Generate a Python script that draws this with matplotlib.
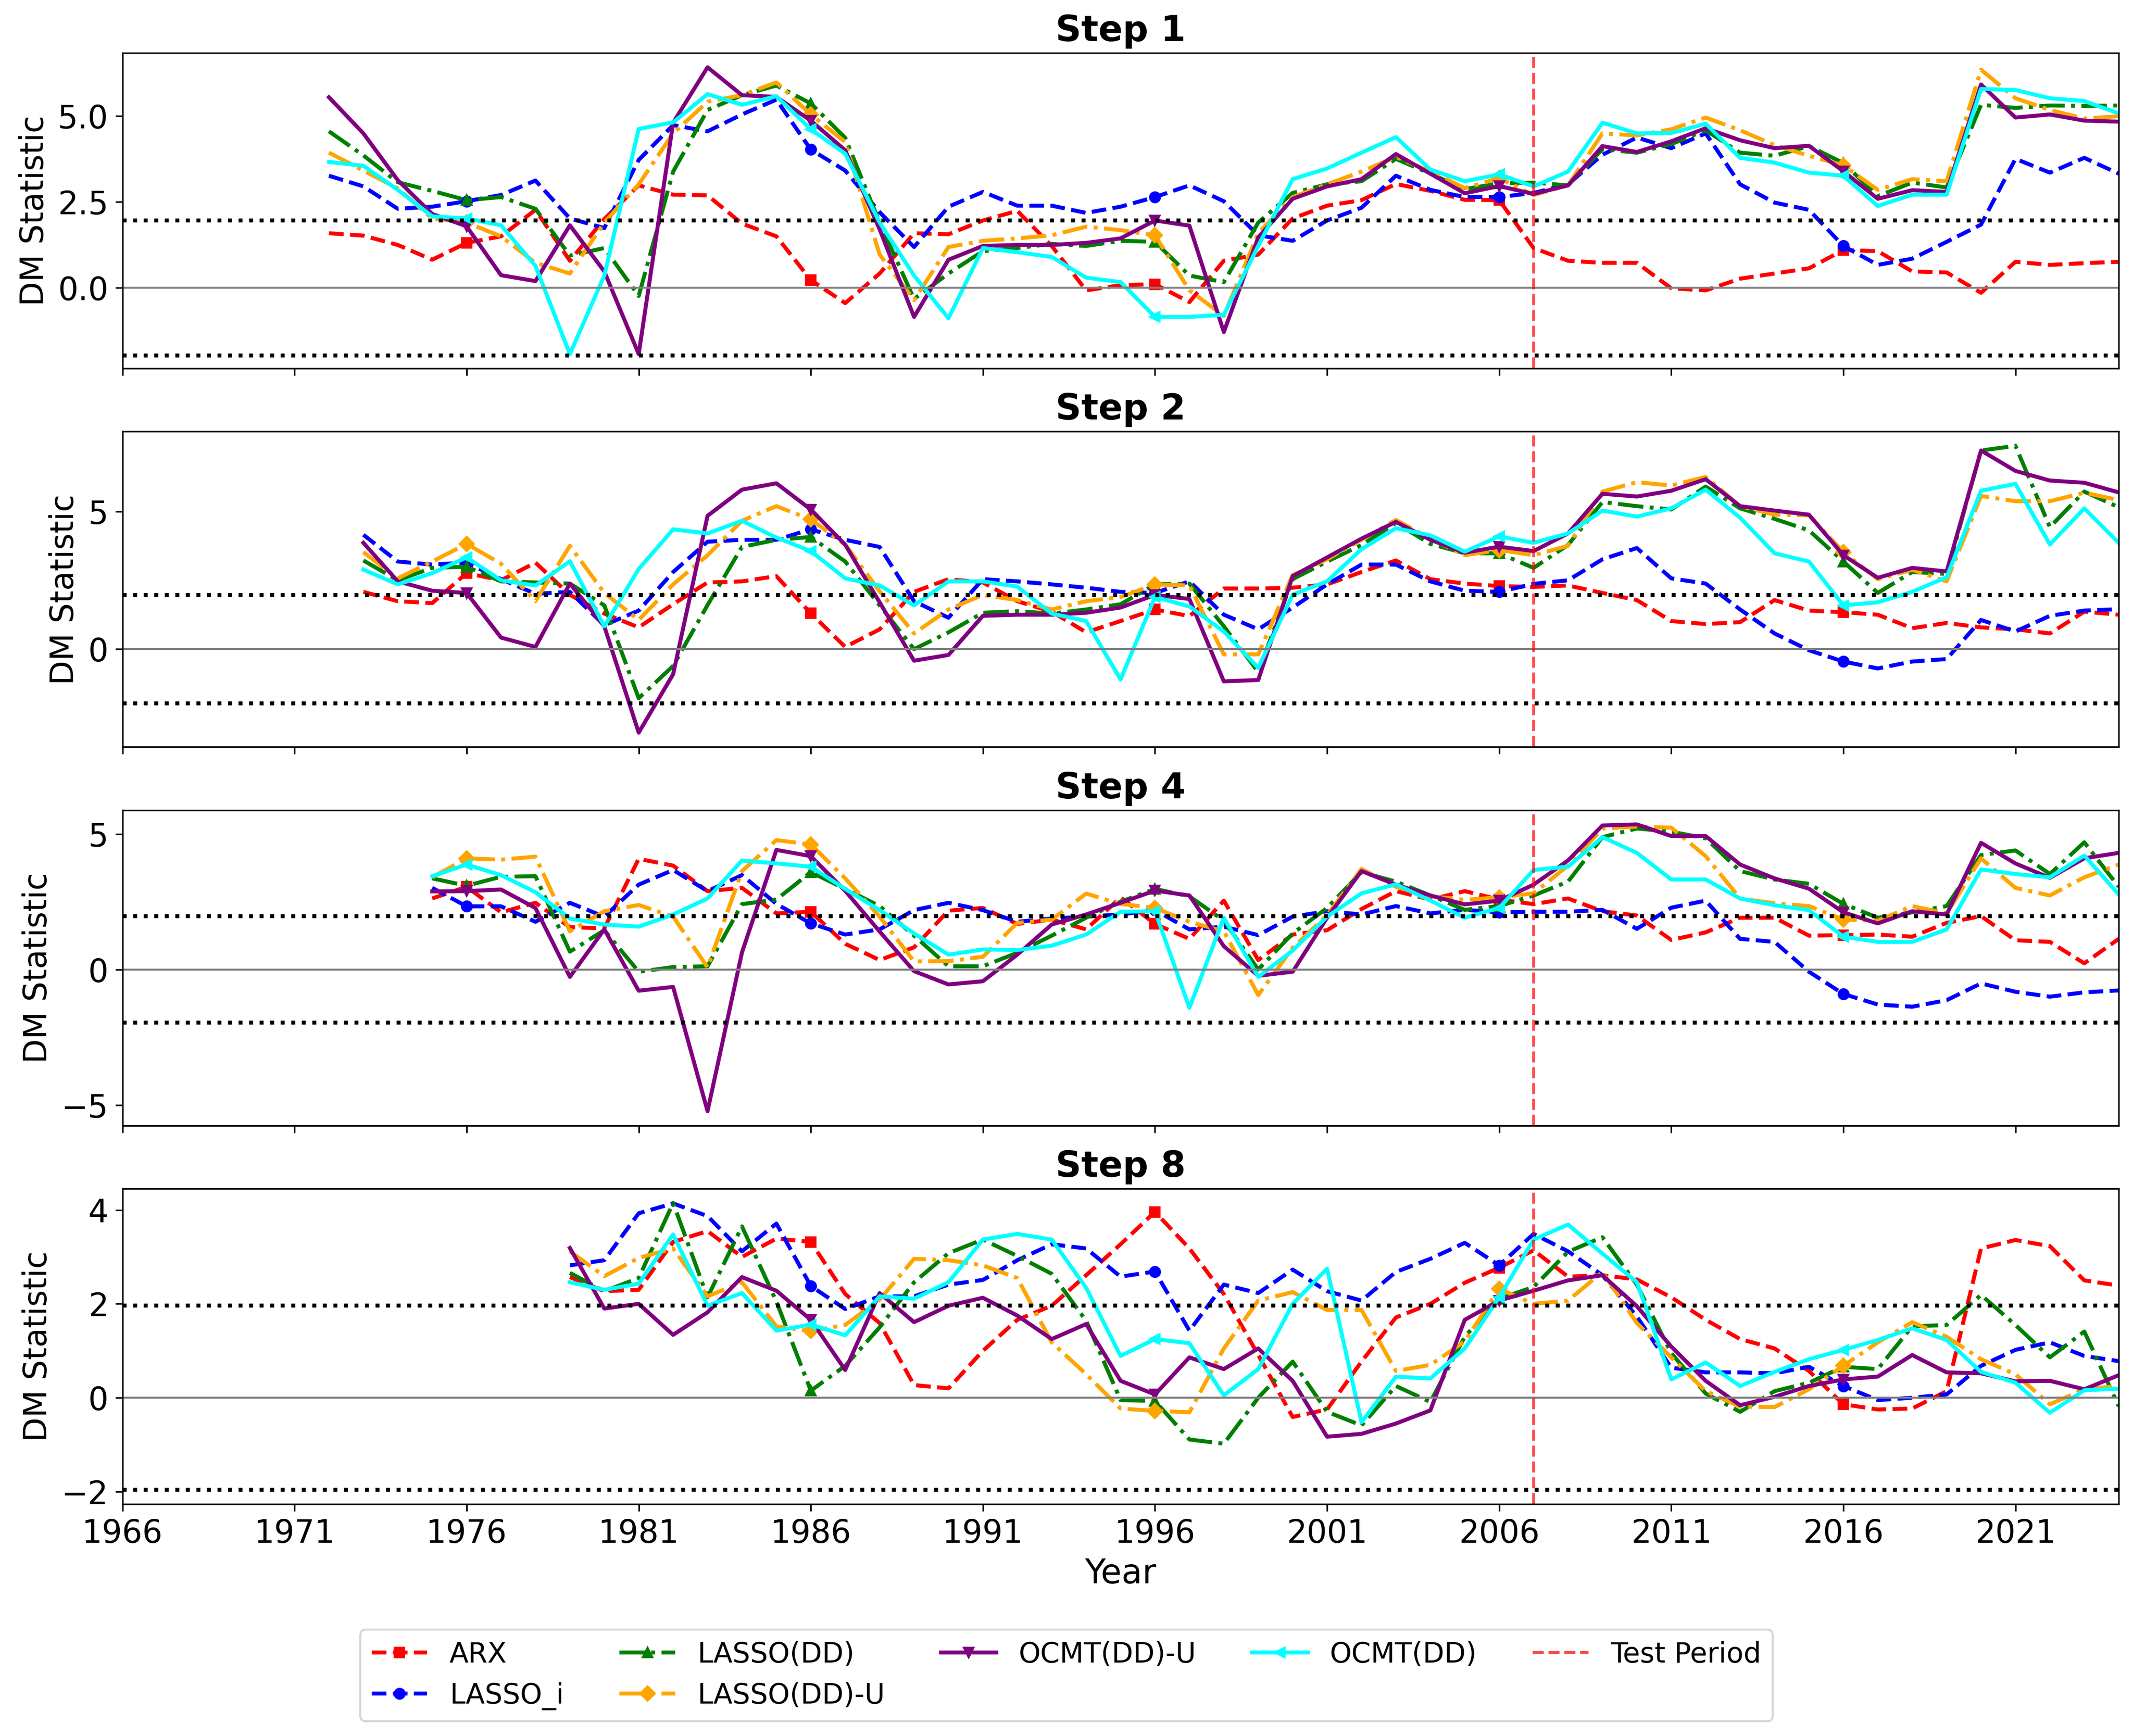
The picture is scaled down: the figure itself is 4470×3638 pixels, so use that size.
import numpy as np
import matplotlib
matplotlib.use("Agg")
import matplotlib.pyplot as plt

# ---------------- data ----------------
first_year = 1966
last_year = 2024
test_start = 2007

model_names = ["ARX", "LASSO_i", "LASSO(DD)", "LASSO(DD)-U", "OCMT(DD)-U", "OCMT(DD)"]
step_titles = ["Step 1", "Step 2", "Step 4", "Step 8"]
step_starts = [1972, 1973, 1975, 1979]

# Step 1 (1972-2024)
s1_arx = [1.59, 1.52, 1.25, 0.82, 1.31, 1.50, 2.27, 0.79, 2.00, 2.98,
          2.71, 2.69, 1.87, 1.50, 0.23, -0.44, 0.42, 1.59, 1.56, 1.96,
          2.24, 1.22, -0.07, 0.08, 0.11, -0.41, 0.79, 0.97, 2.02, 2.39,
          2.55, 3.02, 2.82, 2.56, 2.55, 1.16, 0.79, 0.73, 0.73, -0.01,
          -0.07, 0.27, 0.42, 0.57, 1.10, 1.07, 0.48, 0.45, -0.14, 0.76,
          0.67, 0.72, 0.76]
s1_lasso_i = [3.26, 2.95, 2.30, 2.36, 2.52, 2.70, 3.12, 2.02, 1.74, 3.72,
              4.73, 4.55, 5.04, 5.47, 4.02, 3.41, 2.20, 1.19, 2.36, 2.79,
              2.39, 2.39, 2.18, 2.36, 2.64, 2.98, 2.52, 1.53, 1.37, 1.96,
              2.33, 3.26, 2.85, 2.64, 2.64, 2.76, 3.01, 3.87, 4.37, 4.06,
              4.49, 3.01, 2.48, 2.27, 1.22, 0.67, 0.85, 1.34, 1.84, 3.75,
              3.35, 3.78, 3.32]
s1_lasso_dd = [4.55, 3.85, 3.07, 2.82, 2.55, 2.64, 2.30, 0.94, 1.16, -0.23,
               3.38, 5.17, 5.60, 5.88, 5.36, 4.36, 1.90, -0.32, 0.42, 1.07,
               1.16, 1.28, 1.22, 1.37, 1.34, 0.36, 0.17, 1.90, 2.76, 3.01,
               3.10, 3.75, 3.32, 2.87, 3.04, 3.06, 2.98, 4.03, 3.93, 4.18,
               4.58, 3.93, 3.84, 4.12, 3.63, 2.67, 3.06, 2.92, 5.32, 5.23,
               5.30, 5.29, 5.30]
s1_lasso_dd_u = [3.93, 3.41, 2.89, 2.02, 1.90, 1.50, 0.73, 0.42, 1.90, 3.01,
                 4.49, 5.41, 5.60, 5.97, 5.04, 4.24, 0.97, -0.35, 1.19, 1.37,
                 1.44, 1.53, 1.78, 1.68, 1.53, -0.07, -0.81, 1.59, 2.64, 3.01,
                 3.38, 3.81, 3.38, 2.90, 3.19, 2.70, 2.98, 4.49, 4.43, 4.61,
                 4.95, 4.58, 4.15, 3.84, 3.56, 2.85, 3.16, 3.10, 6.34, 5.51,
                 5.17, 4.92, 4.99]
s1_ocmt_dd_u = [5.54, 4.49, 3.13, 2.15, 1.79, 0.37, 0.20, 1.82, 0.48, -1.92,
                4.80, 6.41, 5.60, 5.55, 4.86, 4.00, 1.70, -0.84, 0.82, 1.22,
                1.25, 1.25, 1.31, 1.44, 1.96, 1.81, -1.28, 1.47, 2.59, 2.95,
                3.16, 3.89, 3.32, 2.75, 2.96, 2.73, 2.98, 4.12, 3.95, 4.26,
                4.64, 4.29, 4.06, 4.13, 3.39, 2.59, 2.84, 2.79, 5.91, 4.95,
                5.04, 4.86, 4.83]
s1_ocmt_dd = [3.66, 3.55, 2.85, 2.08, 2.02, 1.82, 0.64, -1.92, 0.36, 4.62,
              4.81, 5.63, 5.32, 5.57, 4.61, 3.90, 1.90, 0.36, -0.88, 1.16,
              1.04, 0.90, 0.30, 0.17, -0.84, -0.84, -0.78, 1.22, 3.16, 3.47,
              3.93, 4.38, 3.44, 3.10, 3.30, 2.95, 3.38, 4.80, 4.49, 4.50,
              4.77, 3.78, 3.64, 3.35, 3.26, 2.38, 2.71, 2.71, 5.78, 5.75,
              5.51, 5.43, 5.07]

# Step 2 (1973-2024)
s2_arx = [2.08, 1.74, 1.67, 2.76, 2.50, 3.14, 1.97, 1.29, 0.79, 1.63,
          2.42, 2.46, 2.65, 1.30, 0.08, 0.72, 2.08, 2.54, 2.42, 1.74,
          1.36, 0.61, 1.02, 1.44, 1.20, 2.20, 2.20, 2.23, 2.35, 2.80,
          3.22, 2.54, 2.38, 2.29, 2.26, 2.31, 2.04, 1.78, 1.02, 0.91,
          0.98, 1.78, 1.40, 1.34, 1.25, 0.76, 0.95, 0.79, 0.72, 0.57,
          1.36, 1.25]
s2_lasso_i = [4.15, 3.18, 3.07, 3.14, 2.54, 2.01, 2.08, 0.87, 1.40, 2.80,
              3.90, 3.97, 3.97, 4.35, 3.97, 3.71, 1.74, 1.14, 2.54, 2.46,
              2.35, 2.23, 2.08, 2.04, 2.46, 1.25, 0.72, 1.51, 2.35, 3.07,
              3.07, 2.46, 2.12, 2.08, 2.37, 2.50, 3.26, 3.67, 2.57, 2.38,
              1.44, 0.57, -0.04, -0.45, -0.70, -0.45, -0.36, 1.06, 0.64, 1.21,
              1.40, 1.45]
s2_lasso_dd = [3.22, 2.50, 2.95, 2.99, 2.46, 2.42, 2.38, 1.59, -1.78, -0.61,
               1.60, 3.71, 3.97, 4.07, 3.18, 1.59, 0.00, 0.61, 1.32, 1.38,
               1.29, 1.44, 1.63, 2.35, 2.38, 0.83, -0.83, 2.54, 3.18, 3.78,
               4.58, 3.82, 3.48, 3.48, 2.95, 3.78, 5.34, 5.19, 5.07, 5.90,
               5.11, 4.73, 4.31, 3.18, 2.04, 2.80, 2.73, 7.21, 7.38, 4.43,
               5.72, 5.15]
s2_lasso_dd_u = [3.52, 2.57, 3.18, 3.82, 3.10, 1.74, 3.75, 2.04, 1.06, 2.35,
                 3.41, 4.66, 5.19, 4.71, 3.79, 2.10, 0.57, 1.44, 1.97, 1.78,
                 1.44, 1.74, 1.89, 2.35, 2.31, -0.19, -0.19, 2.69, 3.26, 3.97,
                 4.69, 4.01, 3.41, 3.60, 3.41, 3.75, 5.72, 6.06, 5.94, 6.25,
                 5.19, 4.88, 4.86, 3.52, 2.54, 2.88, 2.46, 5.56, 5.37, 5.37,
                 5.68, 5.41]
s2_ocmt_dd_u = [3.86, 2.46, 2.12, 2.04, 0.42, 0.08, 2.38, 0.83, -3.03, -0.91,
                4.84, 5.79, 6.02, 5.07, 3.79, 1.70, -0.42, -0.21, 1.21, 1.25,
                1.25, 1.32, 1.51, 1.97, 1.82, -1.17, -1.12, 2.65, 3.33, 4.01,
                4.62, 3.97, 3.50, 3.72, 3.56, 4.20, 5.64, 5.54, 5.75, 6.17,
                5.19, 5.03, 4.88, 3.41, 2.59, 2.95, 2.82, 7.21, 6.47, 6.12,
                6.04, 5.69]
s2_ocmt_dd = [2.89, 2.35, 2.76, 3.33, 2.50, 2.31, 3.19, 0.83, 2.91, 4.35,
              4.20, 4.66, 4.05, 3.56, 2.57, 2.31, 1.59, 2.46, 2.46, 2.27,
              1.29, 1.02, -1.10, 1.89, 1.55, 0.64, -0.68, 1.98, 2.46, 3.63,
              4.39, 4.13, 3.54, 4.09, 3.86, 4.20, 5.03, 4.81, 5.11, 5.79,
              4.77, 3.48, 3.18, 1.59, 1.70, 2.08, 2.61, 5.75, 6.00, 3.80,
              5.11, 3.86]

# Step 4 (1975-2024)
s4_arx = [2.62, 3.05, 2.11, 2.46, 1.56, 1.52, 4.08, 3.83, 2.89, 3.01,
          2.07, 2.13, 0.95, 0.35, 0.82, 2.17, 2.27, 1.68, 1.84, 1.48,
          2.66, 1.68, 1.13, 2.54, 0.35, 1.29, 1.45, 2.23, 2.89, 2.58,
          2.89, 2.58, 2.41, 2.62, 2.15, 1.99, 1.09, 1.37, 1.91, 1.91,
          1.25, 1.27, 1.29, 1.21, 1.72, 1.97, 1.08, 1.02, 0.23, 1.13]
s4_lasso_i = [3.01, 2.33, 2.33, 1.76, 2.46, 1.95, 3.13, 3.67, 2.89, 3.48,
              2.42, 1.70, 1.29, 1.48, 2.19, 2.46, 2.19, 1.76, 1.88, 1.95,
              2.03, 2.19, 1.48, 1.58, 1.27, 1.95, 2.15, 2.03, 2.34, 2.07,
              2.20, 2.11, 2.13, 2.13, 2.20, 1.50, 2.28, 2.54, 1.13, 1.02,
              -0.08, -0.90, -1.29, -1.37, -1.13, -0.51, -0.82, -1.00, -0.84, -0.77]
s4_lasso_dd = [3.36, 3.09, 3.42, 3.44, 0.66, 1.45, -0.08, 0.09, 0.12, 2.41,
               2.58, 3.59, 2.97, 2.34, 1.25, 0.12, 0.12, 0.62, 1.25, 1.91,
               2.50, 2.97, 2.70, 1.80, 0.00, 1.33, 2.27, 3.59, 3.24, 2.73,
               2.20, 2.34, 2.73, 3.24, 4.88, 5.20, 5.08, 4.84, 3.63, 3.32,
               3.16, 2.42, 1.91, 2.11, 2.34, 4.22, 4.39, 3.52, 4.69, 3.05]
s4_lasso_dd_u = [3.40, 4.10, 4.05, 4.16, 1.41, 2.15, 2.38, 1.95, 0.08, 3.63,
                 4.77, 4.61, 3.36, 1.95, 0.30, 0.31, 0.47, 1.72, 1.84, 2.80,
                 2.42, 2.27, 1.76, 1.41, -0.94, 0.80, 2.00, 3.71, 3.05, 2.70,
                 2.57, 2.66, 2.81, 3.83, 5.20, 5.27, 5.23, 4.18, 2.62, 2.44,
                 2.34, 1.84, 1.80, 2.34, 2.07, 4.10, 3.01, 2.73, 3.40, 3.87]
s4_ocmt_dd_u = [2.88, 2.89, 2.95, 2.27, -0.27, 1.48, -0.78, -0.64, -5.22, 0.63,
                4.41, 4.18, 2.90, 1.40, -0.06, -0.55, -0.43, 0.55, 1.66, 2.03,
                2.46, 2.91, 2.73, 0.86, -0.23, -0.08, 1.91, 3.63, 3.13, 2.73,
                2.40, 2.54, 3.13, 4.02, 5.31, 5.35, 4.92, 4.92, 3.87, 3.36,
                2.98, 2.11, 1.70, 2.15, 2.03, 4.67, 3.91, 3.38, 4.10, 4.30]
s4_ocmt_dd = [3.44, 3.87, 3.48, 2.85, 1.88, 1.66, 1.58, 2.03, 2.62, 4.02,
              3.91, 3.79, 2.97, 2.19, 1.33, 0.55, 0.74, 0.72, 0.88, 1.29,
              2.13, 2.15, -1.41, 1.91, -0.27, 0.70, 1.95, 2.81, 3.14, 2.54,
              1.91, 2.27, 3.67, 3.79, 4.88, 4.30, 3.32, 3.32, 2.62, 2.37,
              2.19, 1.21, 1.02, 1.02, 1.48, 3.69, 3.52, 3.40, 4.20, 2.77]

# Step 8 (1979-2024)
s8_arx = [2.57, 2.27, 2.30, 3.32, 3.55, 3.00, 3.39, 3.32, 2.21, 1.59,
          0.27, 0.20, 1.00, 1.66, 1.96, 2.61, 3.27, 3.96, 3.18, 2.21,
          0.91, -0.41, -0.25, 0.77, 1.71, 2.00, 2.45, 2.77, 3.14, 2.58,
          2.61, 2.52, 2.14, 1.66, 1.25, 1.05, 0.57, -0.14, -0.25, -0.23,
          0.14, 3.18, 3.36, 3.23, 2.50, 2.39]
s8_lasso_i = [2.82, 2.93, 3.93, 4.14, 3.87, 3.12, 3.71, 2.38, 1.89, 2.16,
              2.16, 2.41, 2.51, 2.93, 3.27, 3.18, 2.58, 2.69, 1.43, 2.41,
              2.23, 2.73, 2.27, 2.07, 2.68, 2.96, 3.30, 2.82, 3.49, 3.12,
              2.61, 1.73, 0.64, 0.54, 0.54, 0.52, 0.66, 0.25, -0.05, 0.00,
              0.07, 0.68, 1.02, 1.18, 0.89, 0.78]
s8_lasso_dd = [2.66, 2.27, 2.55, 4.15, 2.14, 3.65, 2.05, 0.15, 0.68, 1.50,
               2.46, 3.08, 3.37, 3.02, 2.64, 1.64, -0.05, -0.07, -0.89, -0.98,
               0.00, 0.77, -0.30, -0.59, 0.25, -0.09, 1.30, 2.11, 2.36, 3.11,
               3.42, 2.41, 0.95, 0.09, -0.30, 0.14, 0.32, 0.66, 0.61, 1.52,
               1.55, 2.19, 1.55, 0.86, 1.41, -0.18]
s8_lasso_dd_u = [3.12, 2.59, 2.98, 3.18, 2.16, 2.46, 1.52, 1.42, 1.55, 2.09,
                 2.96, 2.93, 2.82, 2.55, 1.18, 0.50, -0.23, -0.28, -0.31, 1.05,
                 2.07, 2.25, 1.87, 1.87, 0.57, 0.70, 1.20, 2.32, 2.00, 2.07,
                 2.68, 1.59, 0.86, 0.14, -0.19, -0.20, 0.18, 0.68, 1.18, 1.61,
                 1.30, 0.82, 0.50, -0.14, 0.18, 0.25]
s8_ocmt_dd_u = [3.19, 1.90, 2.00, 1.34, 1.82, 2.57, 2.28, 1.66, 0.59, 2.23,
                1.61, 1.96, 2.13, 1.75, 1.25, 1.57, 0.36, 0.07, 0.86, 0.61,
                1.05, 0.36, -0.83, -0.77, -0.55, -0.27, 1.66, 2.07, 2.28, 2.50,
                2.61, 1.95, 1.09, 0.36, -0.16, 0.02, 0.25, 0.39, 0.45, 0.91,
                0.54, 0.52, 0.35, 0.36, 0.18, 0.48]
s8_ocmt_dd = [2.46, 2.30, 2.43, 3.48, 1.96, 2.23, 1.43, 1.56, 1.33, 2.16,
              2.11, 2.46, 3.37, 3.49, 3.37, 2.34, 0.89, 1.25, 1.16, 0.05,
              0.61, 2.00, 2.75, -0.52, 0.45, 0.41, 1.05, 2.14, 3.37, 3.69,
              3.07, 2.46, 0.39, 0.75, 0.25, 0.55, 0.82, 1.02, 1.23, 1.48,
              1.23, 0.55, 0.32, -0.32, 0.16, 0.19]

step_series = [
    [s1_arx, s1_lasso_i, s1_lasso_dd, s1_lasso_dd_u, s1_ocmt_dd_u, s1_ocmt_dd],
    [s2_arx, s2_lasso_i, s2_lasso_dd, s2_lasso_dd_u, s2_ocmt_dd_u, s2_ocmt_dd],
    [s4_arx, s4_lasso_i, s4_lasso_dd, s4_lasso_dd_u, s4_ocmt_dd_u, s4_ocmt_dd],
    [s8_arx, s8_lasso_i, s8_lasso_dd, s8_lasso_dd_u, s8_ocmt_dd_u, s8_ocmt_dd],
]
xtick_years = list(range(1966, 2025, 5))

# ---------------- style ----------------
colors = ["red", "blue", "green", "orange", "purple", "cyan"]
linestyles = ["--", "--", "-.", "-.", "-", "-"]
markers = ["s", "o", "^", "D", "v", "<"]

fig, axes = plt.subplots(4, 1, figsize=(14.9, 12.1267), dpi=300, sharex=True)
fig.subplots_adjust(left=0.0574, right=0.9933, top=0.9695, bottom=0.1336, hspace=0.2)

for ax, title, start, series in zip(axes, step_titles, step_starts, step_series):
    yrs = np.arange(start, last_year + 1)
    off = (10 - (start - first_year) % 10) % 10
    for name, vals, c, ls, m in zip(model_names, series, colors, linestyles, markers):
        ax.plot(yrs, vals, color=c, linestyle=ls, marker=m, markevery=(off, 10),
                markersize=5, lw=2, label=name)
    ax.axhline(0, color="gray", lw=1)
    ax.axhline(1.96, color="black", ls=":", lw=2)
    ax.axhline(-1.96, color="black", ls=":", lw=2)
    ax.axvline(test_start, color="red", ls="--", lw=1.5, alpha=0.7, label="Test Period")
    ax.set_title(title, fontsize=18, fontweight="bold")
    ax.set_ylabel("DM Statistic", fontsize=16)
    ax.tick_params(labelsize=16)

axes[-1].set_xlim(first_year, last_year)
axes[-1].set_xticks(xtick_years)
axes[-1].set_xlabel("Year", fontsize=17)

handles, labels = axes[0].get_legend_handles_labels()
fig.legend(handles, labels, loc="lower center", ncol=5, fontsize=14,
           bbox_to_anchor=(0.5, 0.0005))

fig.savefig("out.png", dpi=300)
